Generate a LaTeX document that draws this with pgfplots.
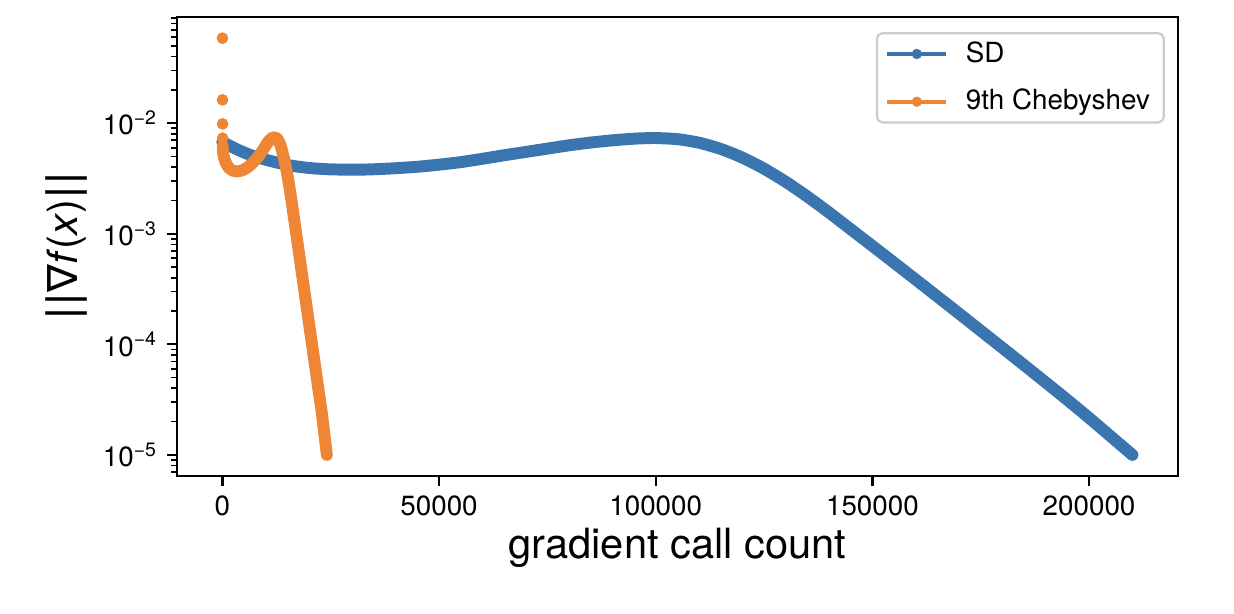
\documentclass[border=0pt]{standalone}
\usepackage{fontspec}
\setmainfont{TeX Gyre Heros}
\newfontfamily\dejavu{DejaVu Sans}
\usepackage{pgfplots}
\pgfplotsset{compat=1.18}
\definecolor{sdblue}{RGB}{59,117,175}
\definecolor{chorange}{RGB}{239,134,54}

\pgfplotstableread{
x y
0 0.006761
1500 0.006310
3000 0.005888
5000 0.005433
7000 0.005070
10000 0.004677
13000 0.004365
16000 0.004121
20000 0.003936
24000 0.003837
28000 0.003802
32000 0.003802
36000 0.003846
40000 0.003917
45000 0.004036
50000 0.004217
55000 0.004446
60000 0.004764
65000 0.005129
70000 0.005495
75000 0.005888
80000 0.006310
85000 0.006683
90000 0.006998
95000 0.007244
99000 0.007345
100000 0.007345
105000 0.007178
110000 0.006658
115000 0.005851
120000 0.004881
125000 0.003877
130000 0.002949
135000 0.002168
140000 0.001555
145000 0.001098
150000 0.000776
155000 0.000547
160000 0.000385
165000 0.0002704
170000 0.0001897
175000 0.0001327
180000 0.0000929
185000 0.0000649
190000 0.0000452
195000 0.0000314
200000 0.0000216
205000 0.0000147
210000 0.0000100
}\sddata

\pgfplotstableread{
x y
70 0.006166
230 0.005164
700 0.004467
1400 0.003981
2300 0.003741
3460 0.003664
4850 0.003784
6230 0.004111
7840 0.004753
9230 0.005623
10380 0.006637
11300 0.007295
12000 0.007447
12690 0.007211
13380 0.006368
14070 0.005058
14770 0.003784
15460 0.002655
16150 0.001750
17000 0.001023
18000 0.000543
19000 0.000288
20000 0.0001531
21000 0.0000813
22000 0.0000432
23000 0.0000229
24100 0.0000100
}\chdata

\begin{document}
\begin{tikzpicture}
\begin{axis}[
  scale only axis, width=360.4pt, height=165.2pt,
  xmin=-10500, xmax=220500,
  ymode=log, ymin=6.47e-6, ymax=0.0914,
  scaled x ticks=false,
  xtick={0,50000,100000,150000,200000},
  xticklabels={0,50000,100000,150000,200000},
  ytick={1e-5,1e-4,1e-3,1e-2},
  yticklabels={10\textsuperscript{\textminus5},10\textsuperscript{\textminus4},10\textsuperscript{\textminus3},10\textsuperscript{\textminus2}},
  minor ytick={7e-6,8e-6,9e-6,2e-5,3e-5,4e-5,5e-5,6e-5,7e-5,8e-5,9e-5,2e-4,3e-4,4e-4,5e-4,6e-4,7e-4,8e-4,9e-4,2e-3,3e-3,4e-3,5e-3,6e-3,7e-3,8e-3,9e-3,2e-2,3e-2,4e-2,5e-2,6e-2,7e-2,8e-2,9e-2},
  tick align=outside, tick pos=left,
  major tick length=3.5pt, minor tick length=2pt,
  tick style={black, line width=0.8pt},
  minor tick style={black, line width=0.6pt},
  axis line style={line width=0.8pt},
  tick label style={font=\fontsize{10}{12}\selectfont},
  xlabel={gradient call count},
  ylabel={{\dejavu ||∇}\textit{f}(\textit{x}){\dejavu ||}},
  xlabel style={font=\fontsize{15}{18}\selectfont, at={(axis description cs:0.5,0)}, anchor=center, yshift=-26pt},
  ylabel style={font=\fontsize{15}{18}\selectfont, at={(axis description cs:-0.11,0.5)}, anchor=center},
  legend style={at={(rel axis cs:0.987,0.967)}, anchor=north east, draw=black!20, rounded corners=2pt,
    font=\fontsize{10}{12}\selectfont, row sep=4.2pt, inner xsep=3pt, inner ysep=1pt, line width=0.8pt,
    /tikz/every odd column/.append style={column sep=4.3pt}},
  legend cell align=left,
]
\addplot[sdblue, line width=4.3pt, line cap=round, line join=round, smooth, tension=0.4, forget plot] table[x=x,y=y] {\sddata};
\addplot[chorange, line width=4.3pt, line cap=round, line join=round, smooth, tension=0.4, forget plot] table[x=x,y=y] {\chdata};
\addplot[chorange, only marks, mark=*, mark size=2.0pt, mark options={line width=0.2pt}, forget plot] coordinates {(0,0.0588) (18,0.01626) (36,0.00986) (54,0.00732)};
\addlegendimage{sdblue, line width=1.5pt, mark=*, mark size=1.7pt, mark options={solid, line width=0.3pt},
  legend image code/.code={\draw[mark repeat=2,mark phase=2] plot coordinates {(0pt,0pt) (10.6pt,0pt) (21.2pt,0pt)};}}
\addlegendentry{SD}
\addlegendimage{chorange, line width=1.5pt, mark=*, mark size=1.7pt, mark options={solid, line width=0.3pt},
  legend image code/.code={\draw[mark repeat=2,mark phase=2] plot coordinates {(0pt,0pt) (10.6pt,0pt) (21.2pt,0pt)};}}
\addlegendentry{9th Chebyshev}
\end{axis}
\path ([xshift=-63.7pt,yshift=-49.7pt]current axis.south west) rectangle ([xshift=20.2pt,yshift=6.1pt]current axis.north east);
\end{tikzpicture}
\end{document}
